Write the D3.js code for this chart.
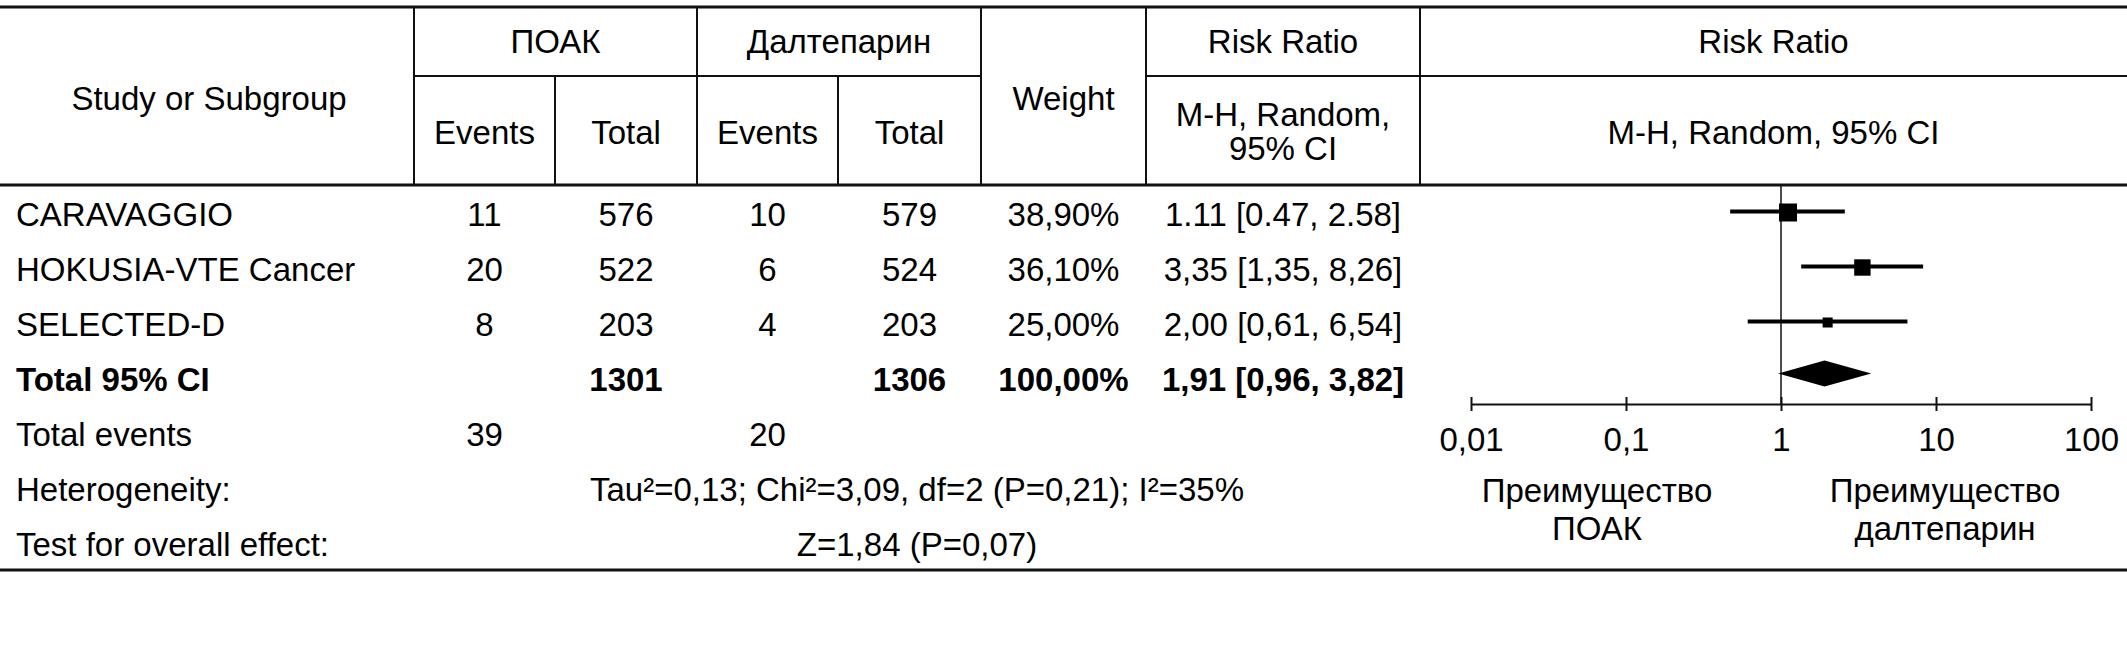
<!DOCTYPE html>
<html>
<head>
<meta charset="utf-8">
<script src="https://cdn.jsdelivr.net/npm/d3@7"></script>
<style>
  html, body { margin: 0; padding: 0; background: #fff; }
  svg { display: block; }
  text { font-family: "Liberation Sans", Arial, sans-serif; fill: #000; }
</style>
</head>
<body>
<svg id="chart" width="2127" height="660"></svg>
<script>
// ---------------- DATA ----------------
const studies = ["CARAVAGGIO", "HOKUSIA-VTE Cancer", "SELECTED-D"];
const doacEvents = [11, 20, 8];
const doacTotal = [576, 522, 203];
const daltEvents = [10, 6, 4];
const daltTotal = [579, 524, 203];
const weights = [38.9, 36.1, 25.0];
const rr = [1.11, 3.35, 2.00];
const rrLow = [0.47, 1.35, 0.61];
const rrHigh = [2.58, 8.26, 6.54];
const rrLabels = ["1.11 [0.47, 2.58]", "3,35 [1,35, 8,26]", "2,00 [0,61, 6,54]"];

const totalLabel = "Total 95% CI";
const doacTotalAll = 1301;
const daltTotalAll = 1306;
const totalWeightLabel = "100,00%";
const pooled = [1.91];
const pooledLow = [0.96];
const pooledHigh = [3.82];
const pooledLabel = "1,91 [0,96, 3,82]";

const totalEventsDoac = 39;
const totalEventsDalt = 20;
const heterogeneityText = "Tau²=0,13; Chi²=3,09, df=2 (P=0,21); I²=35%";
const overallEffectText = "Z=1,84 (P=0,07)";

const axisTicks = [0.01, 0.1, 1, 10, 100];
const axisTickLabels = ["0,01", "0,1", "1", "10", "100"];
const favoursLeft = ["Преимущество", "ПОАК"];
const favoursRight = ["Преимущество", "далтепарин"];

const groupHeaders = ["ПОАК", "Далтепарин"];
const subHeaders = ["Events", "Total"];

// ---------------- LAYOUT ----------------
const svg = d3.select("#chart");
const FS = 33;
const W = 2127;
const yTop = 7, yMid = 76, yHead = 185, yBottom = 570;
const colX = [0, 414, 555, 697, 838, 981, 1146, 1420, W];
const cx = i => (colX[i] + colX[i + 1]) / 2;

const rowKeys = ["s0", "s1", "s2", "total", "events", "het", "effect"];
const yRow = d3.scaleBand().domain(rowKeys).range([187, 572]);
const ry = k => yRow(k) + yRow.bandwidth() / 2;

const fmt = d3.formatLocale({decimal: ",", thousands: "", grouping: [3], currency: ["", ""]});
const pct = v => fmt.format(".2f")(v) + "%";

function txt(x, y, s, opts = {}) {
  return svg.append("text")
    .attr("x", x).attr("y", y)
    .attr("dy", "0.35em")
    .attr("text-anchor", opts.anchor || "middle")
    .attr("font-size", opts.size || FS)
    .attr("font-weight", opts.bold ? "bold" : "normal")
    .text(s);
}
function line(x1, y1, x2, y2, w) {
  svg.append("line").attr("x1", x1).attr("y1", y1).attr("x2", x2).attr("y2", y2)
    .attr("stroke", "#111").attr("stroke-width", w);
}

// ---------------- TABLE LINES ----------------
line(0, yTop, W, yTop, 3);
line(colX[1], yMid, colX[5], yMid, 2);
line(colX[6], yMid, W, yMid, 2);
line(0, yHead, W, yHead, 3);
line(0, yBottom, W, yBottom, 3);
[1, 3, 5, 6, 7].forEach(i => line(colX[i], yTop, colX[i], yHead, 2));
[2, 4].forEach(i => line(colX[i], yMid, colX[i], yHead, 2));

// ---------------- HEADER TEXT ----------------
txt(cx(0) + 2, 98, "Study or Subgroup");
txt((colX[1] + colX[3]) / 2, 41, groupHeaders[0]);
txt((colX[3] + colX[5]) / 2, 41, groupHeaders[1]);
[1, 2, 3, 4].forEach((c, i) => txt(cx(c), 132, subHeaders[i % 2]));
txt(cx(5), 98, "Weight");
txt(cx(6), 41, "Risk Ratio");
txt(cx(6), 114, "M-H, Random,");
txt(cx(6), 148, "95% CI");
txt(cx(7), 41, "Risk Ratio");
txt(cx(7), 132, "M-H, Random, 95% CI");

// ---------------- STUDY ROWS ----------------
studies.forEach((s, i) => {
  const y = ry("s" + i);
  txt(16, y, s, {anchor: "start"});
  txt(cx(1), y, doacEvents[i]);
  txt(cx(2), y, doacTotal[i]);
  txt(cx(3), y, daltEvents[i]);
  txt(cx(4), y, daltTotal[i]);
  txt(cx(5), y, pct(weights[i]));
  txt(cx(6), y, rrLabels[i]);
});

// total row
{
  const y = ry("total");
  txt(16, y, totalLabel, {anchor: "start", bold: true});
  txt(cx(2), y, doacTotalAll, {bold: true});
  txt(cx(4), y, daltTotalAll, {bold: true});
  txt(cx(5), y, totalWeightLabel, {bold: true});
  txt(cx(6), y, pooledLabel, {bold: true});
}
// events row
txt(16, ry("events"), "Total events", {anchor: "start"});
txt(cx(1), ry("events"), totalEventsDoac);
txt(cx(3), ry("events"), totalEventsDalt);
// heterogeneity / overall effect
const midSpan = (colX[1] + colX[7]) / 2;
txt(16, ry("het"), "Heterogeneity:", {anchor: "start"});
txt(midSpan, ry("het"), heterogeneityText);
txt(16, ry("effect"), "Test for overall effect:", {anchor: "start"});
txt(midSpan, ry("effect"), overallEffectText);

// ---------------- FOREST PLOT ----------------
const x = d3.scaleLog().domain([0.01, 100]).range([1471, 2091]);
const yAxis = 404;
const size = d3.scaleLinear().domain([25, 38.9]).range([10, 18]);

// line of no effect
line(x(1), yHead, x(1), yAxis, 1.5);

// axis
const axis = d3.axisBottom(x).tickValues(axisTicks)
  .tickFormat((d, i) => axisTickLabels[i]).tickSize(6).tickSizeOuter(0);
const ag = svg.append("g").attr("transform", `translate(0,${yAxis})`).call(axis);
ag.select(".domain").attr("stroke", "#111").attr("stroke-width", 2);
ag.selectAll(".tick line").attr("y1", -7).attr("y2", 7).attr("stroke", "#111").attr("stroke-width", 2);
ag.selectAll(".tick text").attr("y", 35).attr("dy", "0.35em")
  .attr("font-size", FS).attr("font-family", "Liberation Sans, Arial, sans-serif").attr("fill", "#000");

// study CIs
const g = svg.append("g");
studies.forEach((s, i) => {
  const y = ry("s" + i) - 3;
  g.append("line").attr("x1", x(rrLow[i])).attr("x2", x(rrHigh[i]))
    .attr("y1", y).attr("y2", y).attr("stroke", "#000").attr("stroke-width", 4);
  const sz = size(weights[i]);
  g.append("rect").attr("x", x(rr[i]) - sz / 2).attr("y", y - sz / 2 + 1)
    .attr("width", sz).attr("height", sz).attr("fill", "#000");
});

// pooled diamond
{
  const y = ry("total") - 6;
  const h = 13;
  const pts = [[x(pooledLow[0]), y], [x(pooled[0]), y - h], [x(pooledHigh[0]), y], [x(pooled[0]), y + h]];
  g.append("path").attr("d", d3.line()(pts) + "Z").attr("fill", "#000");
}

// favours labels
const favLX = 1597, favRX = 1945;
favoursLeft.forEach((t, i) => txt(favLX, 490 + i * 38, t));
favoursRight.forEach((t, i) => txt(favRX, 490 + i * 38, t));
</script>
</body>
</html>
